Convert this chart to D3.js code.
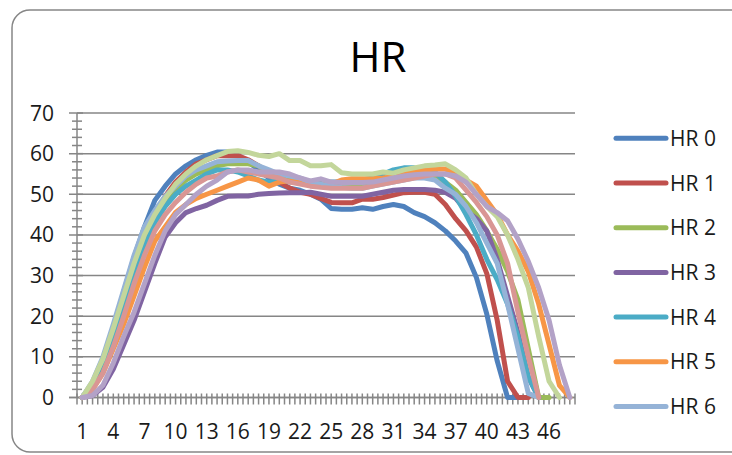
<!DOCTYPE html>
<html>
<head>
<meta charset="utf-8">
<script src="https://cdnjs.cloudflare.com/ajax/libs/d3/7.8.5/d3.min.js"></script>
<style>
  body { margin: 0; background: #fff; }
  svg { display: block; font-family: "Open Sans", sans-serif; }
</style>
</head>
<body>
<svg id="chart" width="732" height="455"></svg>
<script>
const categories = d3.range(1, 49);
const seriesNames = ["HR 0", "HR 1", "HR 2", "HR 3", "HR 4", "HR 5", "HR 6", "HR 7", "HR 8", "HR 9"];
const colors = ["#4F81BD", "#C0504D", "#9BBB59", "#8064A2", "#4BACC6", "#F79646", "#95B3D7", "#D99694", "#C3D69B", "#B3A2C7"];
const legendCount = 7;
const yTicks = [0, 10, 20, 30, 40, 50, 60, 70];

const hr0 = [0, 3.5, 9, 17, 26, 34.5, 42, 48.5, 52, 55, 57, 58.5, 59.6, 60.4, 60.4, 59.5, 58, 56, 54, 52.5, 51.5, 51, 50, 48.8, 46.5, 46.3, 46.3, 46.7, 46.3, 47, 47.5, 47, 45.5, 44.5, 43, 41, 38.5, 35.5, 29.5, 20.5, 9, 0, 0, null, null, null, null, null];
const hr1 = [0, 2.5, 7, 14, 22, 30, 38, 45, 49.5, 53, 55.5, 57.5, 58.5, 59.5, 59.5, 59.5, 58.5, 57, 55, 53, 51.5, 50.5, 50, 49, 48, 47.9, 47.9, 48.8, 48.8, 49.2, 49.8, 50.4, 50.5, 50.5, 50, 47.5, 44, 41, 37, 30.5, 19, 4, 0, 0, null, null, null, null];
const hr2 = [0, 3, 8, 15, 23, 31, 38, 44, 48, 51, 53.5, 55, 56, 57, 57.5, 57.5, 57.5, 57, 55, 54, 53.5, 53, 52.5, 52, 52, 52, 52, 52, 52.5, 53, 53.5, 54, 54.5, 54.5, 54, 53, 51, 48, 45, 41, 36.5, 31, 24, 12, 0, 0, null, null];
const hr3 = [0, 0.5, 2.5, 7, 13, 19, 26, 33, 39.5, 43, 45.5, 46.5, 47.3, 48.5, 49.5, 49.6, 49.6, 50, 50.2, 50.3, 50.4, 50.4, 50.5, 50, 49.5, 49.5, 49.5, 49.5, 50, 50.5, 51, 51.2, 51.2, 51.2, 51, 50.5, 49, 46, 44, 41, 34, 25, 16, 5, 0, null, null, null];
const hr4 = [0, 3, 8, 15, 22, 30, 37, 43, 47, 50, 52, 53.5, 55, 56, 56, 55.5, 54.5, 53.5, 53, 53.5, 53, 53, 53, 53, 53, 53, 53.3, 53.5, 54, 55, 56, 56.5, 56.5, 56, 55.5, 53, 49.5, 45, 40, 34, 29, 23, 15, 5, 0, null, null, null];
const hr5 = [0, 2, 6, 12, 18, 25, 32, 38.5, 42, 45.5, 47.5, 49, 50, 51, 52, 53, 54, 53.5, 52, 53, 53.3, 53.3, 52.5, 52.5, 52.5, 53.5, 53.8, 53.8, 53.8, 54, 54.3, 55, 55.5, 56, 56.2, 56.2, 55, 53.5, 52, 48.5, 45, 40, 36, 31, 23, 13, 3, 0];
const hr6 = [0, 4, 10, 18, 26.5, 35, 42, 46, 49.5, 52, 54.5, 56, 57, 58, 58.2, 58.3, 58.3, 57, 56, 55, 54.5, 54, 53, 52.5, 52, 51.7, 51.5, 51.5, 52, 52.5, 53, 53.5, 54, 54, 53.5, 51.5, 50, 47, 43, 38, 33, 23, 12, 1, 0, null, null, null];
const hr7 = [0, 2, 6, 12.5, 20, 28, 35, 41, 45, 48, 50.5, 52.5, 54, 54.5, 55.5, 56, 55.5, 55, 54.5, 54, 53, 52.5, 52, 51.7, 51.5, 51.5, 51.5, 51.5, 52, 52.5, 53, 53.5, 54, 54.5, 55, 55, 54, 51, 48, 44.5, 40, 33, 21, 10, 0, null, null, null];
const hr8 = [0, 4, 9.5, 17, 25, 33, 40, 45, 49, 52.5, 55, 57, 58.5, 59.5, 60.5, 60.7, 60.3, 59.6, 59.3, 60, 58.3, 58.3, 57, 57, 57.3, 55.3, 55, 55, 55, 55.5, 55.2, 56, 56.5, 57, 57.2, 57.5, 56, 54, 50, 47, 44.5, 40, 34, 27, 15, 4, 0, null];
const hr9 = [0, 0.5, 3, 8.5, 15, 21, 28, 35, 41, 45, 47.5, 50, 52, 53.5, 55.5, 56, 56, 55.5, 55.5, 55.5, 55, 54, 53.3, 53.8, 53, 52.9, 52.9, 52.9, 53, 53.5, 54, 54.5, 54.8, 55, 55, 55, 54.5, 53, 50, 47, 45.5, 43.5, 39, 33.5, 27, 19, 8, 0];

const allSeries = [hr0, hr1, hr2, hr3, hr4, hr5, hr6, hr7, hr8, hr9];

const svg = d3.select("#chart");
const plotLeft = 77, plotRight = 575, plotTop = 113, plotBottom = 397.5;
const axisColor = "#868686";

// chart frame
svg.append("rect")
   .attr("x", 12).attr("y", 10)
   .attr("width", 740).attr("height", 442)
   .attr("rx", 18)
   .attr("fill", "#fff")
   .attr("stroke", axisColor)
   .attr("stroke-width", 1.5);

svg.append("text")
   .attr("x", 378).attr("y", 72)
   .attr("text-anchor", "middle")
   .attr("font-size", 42)
   .attr("fill", "#000")
   .text("HR");

const x = d3.scaleBand().domain(categories).range([plotLeft, plotRight]).padding(0);
const cx = d => x(d) + x.bandwidth() / 2;
const y = d3.scaleLinear().domain([0, 70]).range([plotBottom, plotTop]);

// gridlines
svg.append("g").selectAll("line")
   .data(yTicks)
   .enter().append("line")
   .attr("x1", plotLeft - 8).attr("x2", plotRight)
   .attr("y1", d => y(d)).attr("y2", d => y(d))
   .attr("stroke", axisColor)
   .attr("stroke-width", 1.5);

// y minor ticks
svg.append("g").selectAll("line")
   .data(d3.range(0, 71, 2).filter(v => v % 10 !== 0))
   .enter().append("line")
   .attr("x1", plotLeft - 5).attr("x2", plotLeft + 5)
   .attr("y1", d => y(d)).attr("y2", d => y(d))
   .attr("stroke", axisColor)
   .attr("stroke-width", 1.5);

svg.append("g").selectAll("line")
   .data(yTicks)
   .enter().append("line")
   .attr("x1", plotLeft).attr("x2", plotLeft + 6)
   .attr("y1", d => y(d)).attr("y2", d => y(d))
   .attr("stroke", axisColor)
   .attr("stroke-width", 1.5);

svg.append("line")
   .attr("x1", plotLeft).attr("x2", plotLeft)
   .attr("y1", plotTop).attr("y2", plotBottom)
   .attr("stroke", axisColor).attr("stroke-width", 1.5);

svg.append("g").selectAll("text")
   .data(yTicks)
   .enter().append("text")
   .attr("x", 54)
   .attr("y", d => y(d) + 7.5)
   .attr("text-anchor", "end")
   .attr("font-size", 21)
   .attr("fill", "#1a1a1a")
   .text(d => d);

// x ticks at boundaries and centres
const xTickPos = [];
categories.forEach(c => { xTickPos.push(x(c)); xTickPos.push(cx(c)); });
xTickPos.push(plotRight);
svg.append("g").selectAll("line")
   .data(xTickPos)
   .enter().append("line")
   .attr("x1", d => d).attr("x2", d => d)
   .attr("y1", plotBottom - 4).attr("y2", plotBottom + 7)
   .attr("stroke", axisColor)
   .attr("stroke-width", 1.5);

svg.append("line")
   .attr("x1", plotLeft - 8).attr("x2", plotRight)
   .attr("y1", plotBottom).attr("y2", plotBottom)
   .attr("stroke", axisColor).attr("stroke-width", 1.5);

svg.append("g").selectAll("text")
   .data(categories.filter(c => (c - 1) % 3 === 0))
   .enter().append("text")
   .attr("x", d => cx(d))
   .attr("y", 439)
   .attr("text-anchor", "middle")
   .attr("font-size", 21)
   .attr("fill", "#1a1a1a")
   .text(d => d);

// series lines
const line = d3.line()
   .defined(d => d.v != null)
   .x(d => cx(d.c))
   .y(d => y(d.v));

svg.append("g").selectAll("path")
   .data(allSeries)
   .enter().append("path")
   .attr("d", s => line(s.map((v, i) => ({ c: categories[i], v: v }))))
   .attr("fill", "none")
   .attr("stroke", (s, i) => colors[i])
   .attr("stroke-width", 5)
   .attr("stroke-linejoin", "round")
   .attr("stroke-linecap", "round");

// legend, only the first seven entries fit
const legend = svg.append("g").selectAll("g")
   .data(seriesNames.slice(0, legendCount))
   .enter().append("g")
   .attr("transform", (d, i) => `translate(0, ${138.3 + i * 44.7})`);

legend.append("line")
   .attr("x1", 616).attr("x2", 666)
   .attr("stroke", (d, i) => colors[i])
   .attr("stroke-width", 5)
   .attr("stroke-linecap", "round");

legend.append("text")
   .attr("x", 670)
   .attr("y", 7.5)
   .attr("font-size", 21)
   .attr("fill", "#1a1a1a")
   .text(d => d);
</script>
</body>
</html>
